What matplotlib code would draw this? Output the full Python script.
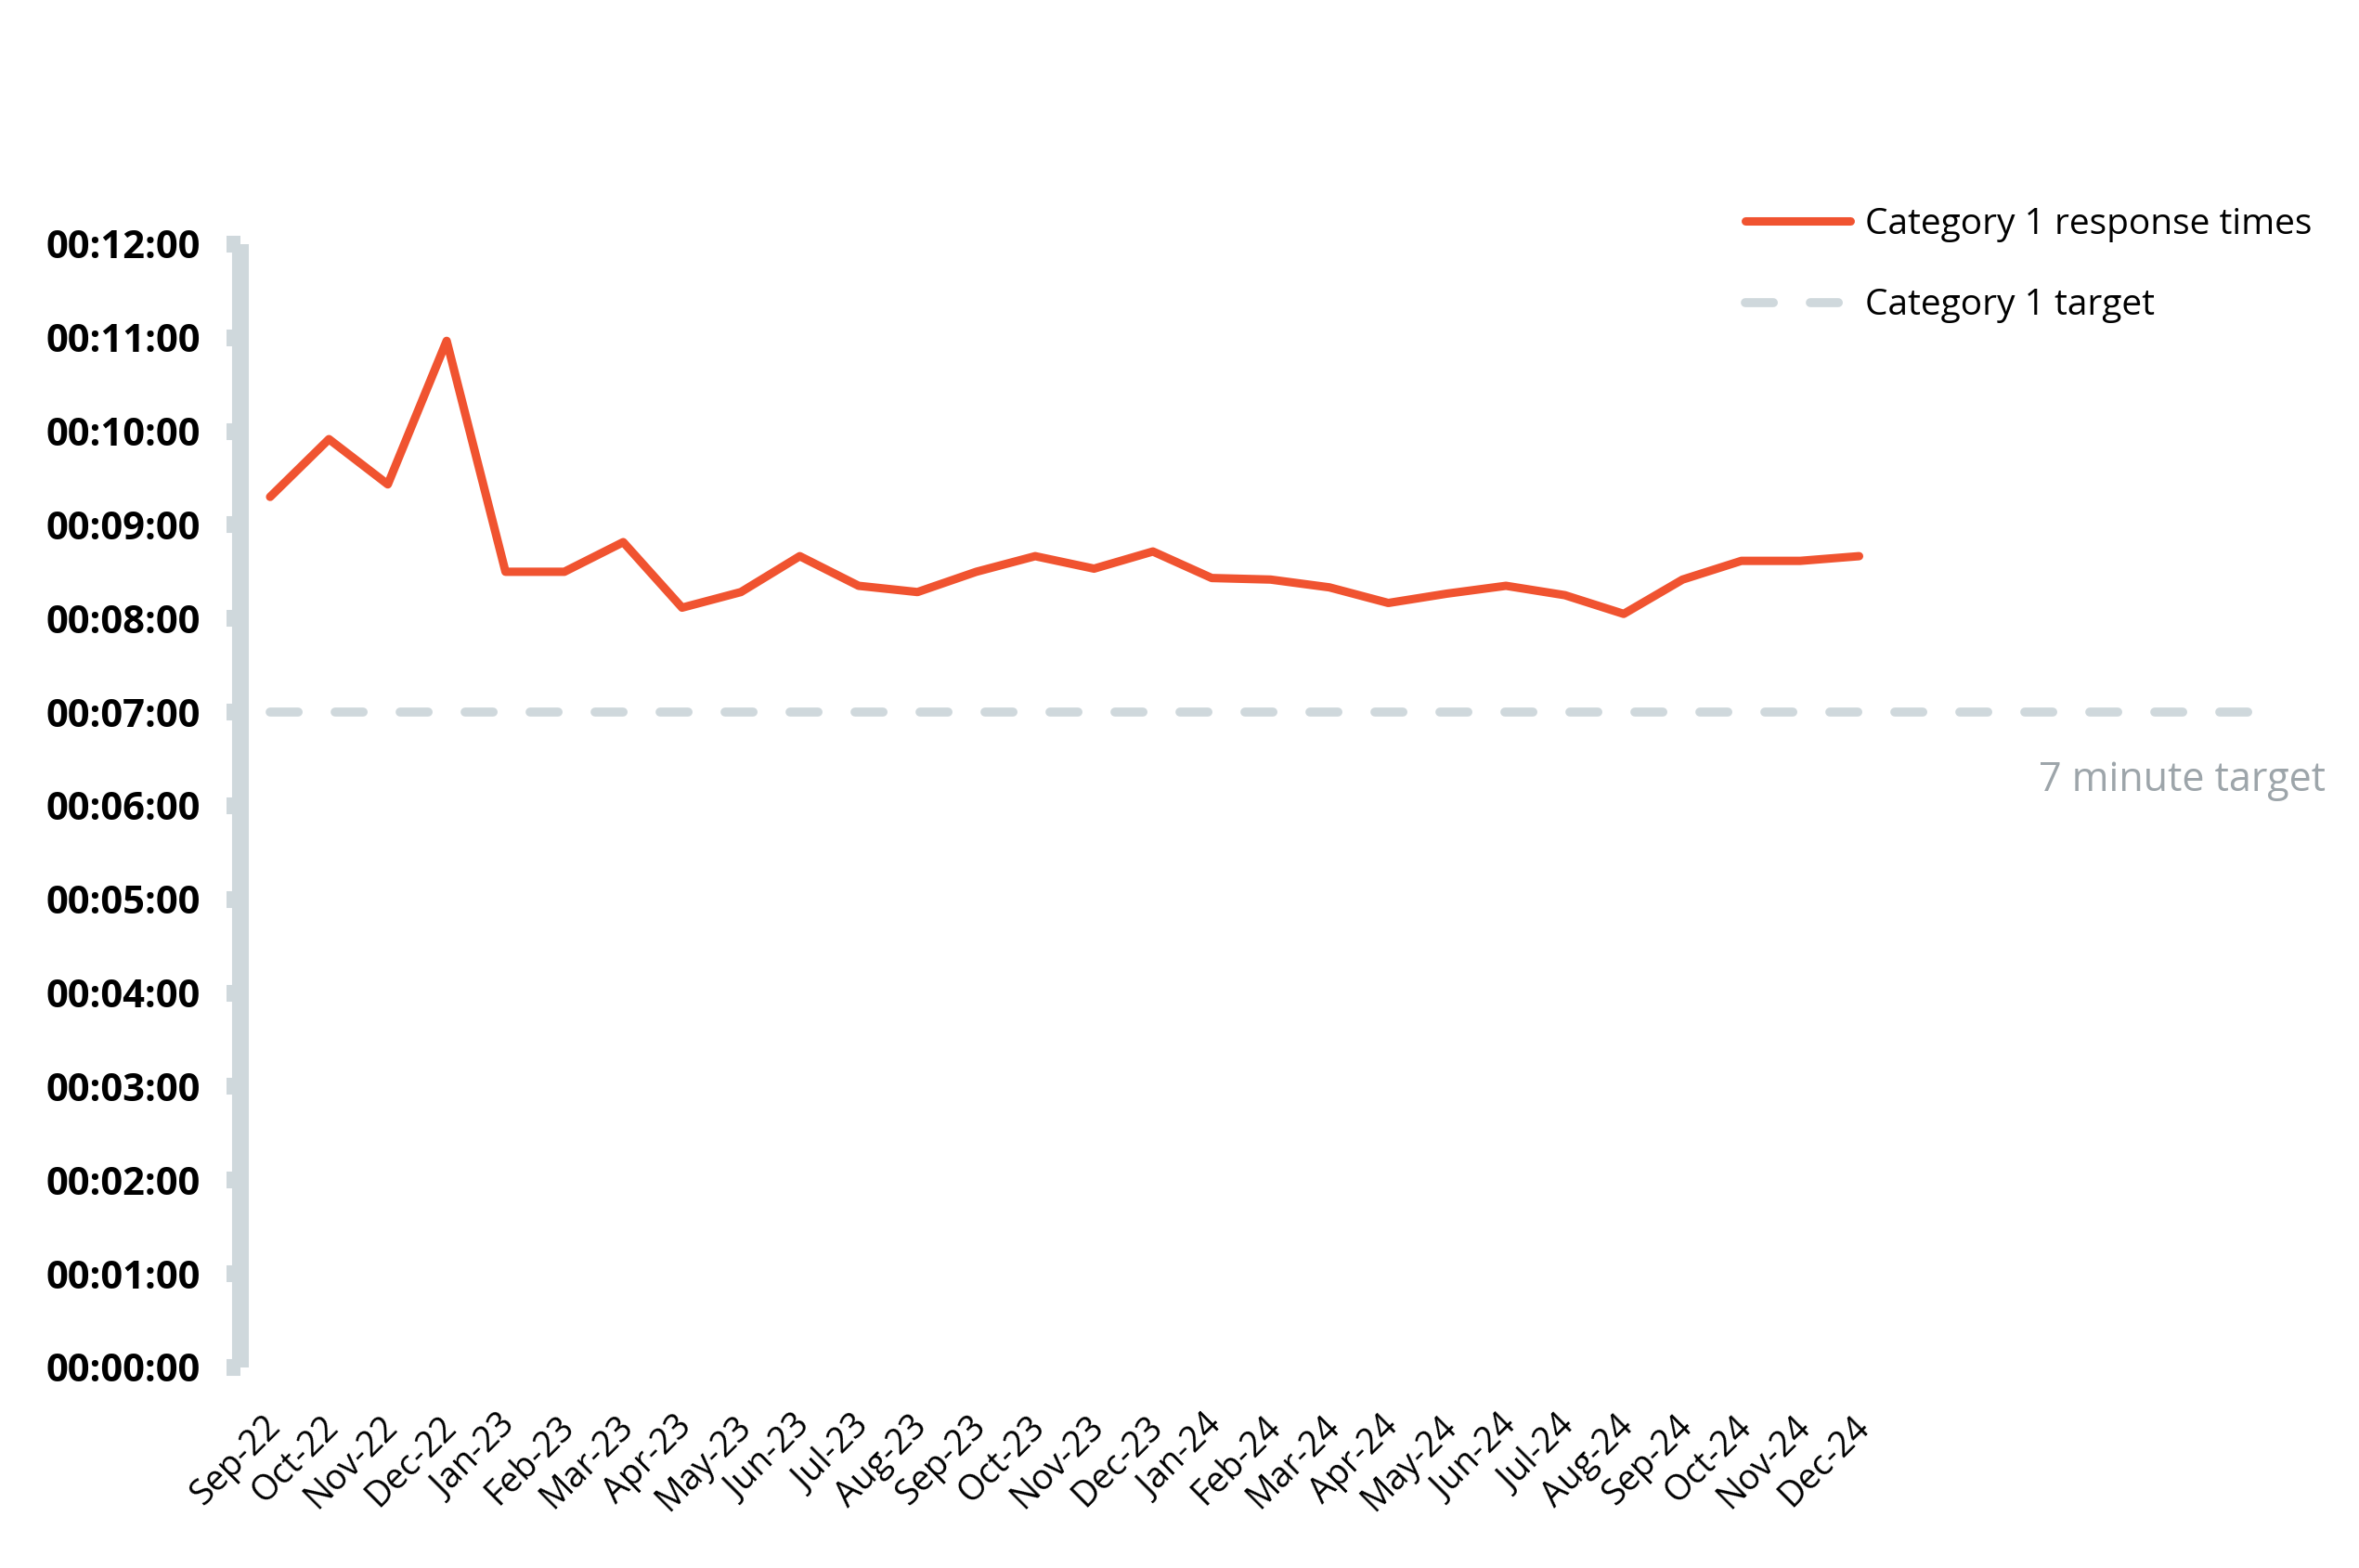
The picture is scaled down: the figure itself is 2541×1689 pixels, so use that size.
import matplotlib.pyplot as plt
from matplotlib.lines import Line2D
from matplotlib.transforms import ScaledTranslation

# --- data ---
months = ["Sep-22", "Oct-22", "Nov-22", "Dec-22",
          "Jan-23", "Feb-23", "Mar-23", "Apr-23", "May-23", "Jun-23",
          "Jul-23", "Aug-23", "Sep-23", "Oct-23", "Nov-23", "Dec-23",
          "Jan-24", "Feb-24", "Mar-24", "Apr-24", "May-24", "Jun-24",
          "Jul-24", "Aug-24", "Sep-24", "Oct-24", "Nov-24", "Dec-24"]
response_times = ["09:18", "09:55", "09:26", "10:58",
                  "08:30", "08:30", "08:49", "08:07", "08:17", "08:40",
                  "08:21", "08:17", "08:30", "08:40", "08:32", "08:43",
                  "08:26", "08:25", "08:20", "08:10", "08:16", "08:21",
                  "08:15", "08:03", "08:25", "08:37", "08:37", "08:40"]
target_minutes = 7
target_span = 35          # target line runs on past the last month
y_ticks = list(range(0, 13))

ORANGE = "#F05330"
GREY = "#CFD8DC"
TEXT_GREY = "#9DA5AA"
DASH = (0, (3.1, 4.1))    # in linewidths, round caps


def to_minutes(s):
    m, sec = s.split(":")
    return int(m) + int(sec) / 60


resp = [to_minutes(s) for s in response_times]

plt.rcParams["font.family"] = ["Open Sans", "DejaVu Sans"]

fig = plt.figure(figsize=(25.41, 16.89), dpi=100)
ax = fig.add_axes([0.1019, 0.1279, 0.8733, 0.7164])

# target line
ax.plot(range(target_span), [target_minutes] * target_span, color=GREY, lw=7,
        linestyle=DASH, dash_capstyle="round",
        label="Category 1 target", zorder=2)
# response times
ax.plot(range(len(months)), resp, color=ORANGE, lw=6.5,
        solid_capstyle="round", solid_joinstyle="round",
        label="Category 1 response times", zorder=3)

ax.set_xlim(-0.505, 34.5)
ax.set_ylim(0, 12)

for s in ["top", "right", "bottom"]:
    ax.spines[s].set_visible(False)
ax.spines["left"].set_color(GREY)
ax.spines["left"].set_linewidth(13)
ax.spines["left"].set_capstyle("butt")

ax.set_yticks(y_ticks)
ax.set_yticklabels([f"00:{m:02d}:00" for m in y_ticks],
                   fontsize=30, fontweight="bold")
ax.tick_params(axis="y", length=10.8, width=13, color=GREY, pad=20)

ax.set_xticks(range(len(months)))
ax.set_xticklabels(months, rotation=45, ha="right", va="top",
                   rotation_mode="anchor", fontsize=27)
ax.tick_params(axis="x", length=0, pad=32)
# nudge the rotated labels a little left, like the original
shift = ScaledTranslation(-6 / 72, 0, fig.dpi_scale_trans)
for lbl in ax.get_xticklabels():
    lbl.set_transform(lbl.get_transform() + shift)

fig.text(0.986, 0.502, "7 minute target", ha="right", va="center",
         fontsize=31, color=TEXT_GREY)

handles = [
    Line2D([], [], color=ORANGE, lw=6.5, solid_capstyle="round"),
    Line2D([], [], color=GREY, lw=7, linestyle=DASH, dash_capstyle="round"),
]
fig.legend(handles, ["Category 1 response times", "Category 1 target"],
           loc="upper left", bbox_to_anchor=(0.740, 0.868), frameon=False,
           fontsize=28, handlelength=2.9, handletextpad=0.41,
           labelspacing=1.27, borderpad=0, borderaxespad=0)

fig.savefig("out.png", dpi=100, facecolor="white")
